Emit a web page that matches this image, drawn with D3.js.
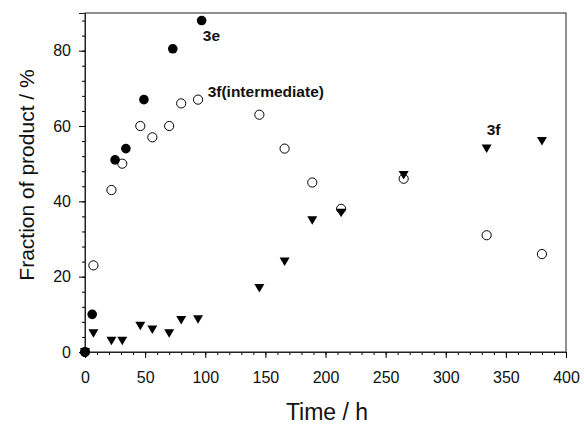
<!DOCTYPE html>
<html>
<head>
<meta charset="utf-8">
<script src="https://cdn.jsdelivr.net/npm/d3@7"></script>
<style>
  body { margin: 0; background: #fff; }
  text { font-family: "Liberation Sans", Arial, sans-serif; }
</style>
</head>
<body>
<svg id="chart" width="584" height="424"></svg>
<script>
// time (h) and fraction (%)
const time3e = [0, 6, 25, 34, 49, 73, 97];
const frac3e = [0, 10, 51, 54, 67, 80.5, 88];

const timeInter = [0, 7, 22, 31, 46, 56, 70, 80, 94, 145, 166, 189, 213, 265, 334, 380];
const fracInter = [0, 23, 43, 50, 60, 57, 60, 66, 67, 63, 54, 45, 38, 46, 31, 26];

const time3f = [0, 7, 22, 31, 46, 56, 70, 80, 94, 145, 166, 189, 213, 265, 334, 380];
const frac3f = [0, 5, 3, 3, 7, 6, 5, 8.5, 8.7, 17, 24, 35, 37, 47, 54, 56];

const xTicks = [0, 50, 100, 150, 200, 250, 300, 350, 400];
const yTicks = [0, 20, 40, 60, 80];

const margin = { top: 13, right: 18, bottom: 72, left: 85 };
const width = 584 - margin.left - margin.right;
const height = 424 - margin.top - margin.bottom;

const svg = d3.select('#chart');
const g = svg.append('g')
  .attr('transform', `translate(${margin.left},${margin.top})`);

const x = d3.scaleLinear().domain([0, 400]).range([0, width]);
const y = d3.scaleLinear().domain([0, 90]).range([height, 0]);

// frame
g.append('rect')
  .attr('width', width)
  .attr('height', height)
  .attr('fill', 'none')
  .attr('stroke', '#222')
  .attr('stroke-width', 1);

// minor ticks
g.append('g')
  .attr('transform', `translate(0,${height})`)
  .call(d3.axisBottom(x).tickValues(d3.range(0, 401, 10)).tickSize(3).tickFormat(''))
  .call(a => a.select('.domain').remove());
g.append('g')
  .call(d3.axisLeft(y).tickValues(d3.range(0, 89, 4)).tickSize(3).tickFormat(''))
  .call(a => a.select('.domain').remove());

// major ticks
const xAxis = g.append('g')
  .attr('transform', `translate(0,${height})`)
  .call(d3.axisBottom(x).tickValues(xTicks).tickSize(6).tickPadding(14));
const yAxis = g.append('g')
  .call(d3.axisLeft(y).tickValues(yTicks).tickSize(6).tickPadding(8));

[xAxis, yAxis].forEach(a => {
  a.selectAll('text').style('font-size', '16px').attr('fill', '#111');
  a.select('.domain').attr('stroke', '#222');
});

// 3f(intermediate): open circles
g.append('g')
  .selectAll('circle')
  .data(d3.zip(timeInter, fracInter))
  .join('circle')
  .attr('cx', d => x(d[0]))
  .attr('cy', d => y(d[1]))
  .attr('r', 4.6)
  .attr('fill', 'none')
  .attr('stroke', '#000')
  .attr('stroke-width', 1);

// 3f: filled down-triangles
g.append('g')
  .selectAll('path')
  .data(d3.zip(time3f, frac3f))
  .join('path')
  .attr('transform', d => `translate(${x(d[0])},${y(d[1])})`)
  .attr('d', 'M-5,-4L5,-4L0,4.5Z')
  .attr('fill', '#000');

// 3e: filled circles
g.append('g')
  .selectAll('circle')
  .data(d3.zip(time3e, frac3e))
  .join('circle')
  .attr('cx', d => x(d[0]))
  .attr('cy', d => y(d[1]))
  .attr('r', 4.8)
  .attr('fill', '#000');

// series labels
const labels = [
  { text: '3e', t: 98, v: 82.5 },
  { text: '3f(intermediate)', t: 102, v: 67.7 },
  { text: '3f', t: 334, v: 57.5 }
];
g.selectAll('.lab')
  .data(labels)
  .join('text')
  .attr('class', 'lab')
  .attr('x', d => x(d.t))
  .attr('y', d => y(d.v))
  .attr('font-size', '15.5px')
  .attr('font-weight', 'bold')
  .attr('fill', '#111')
  .text(d => d.text);

// axis titles
svg.append('text')
  .attr('x', 327)
  .attr('y', 420)
  .attr('text-anchor', 'middle')
  .attr('font-size', '23px')
  .attr('fill', '#111')
  .text('Time / h');

svg.append('text')
  .attr('transform', 'translate(34,175) rotate(-90)')
  .attr('text-anchor', 'middle')
  .attr('font-size', '21px')
  .attr('fill', '#111')
  .text('Fraction of product / %');
</script>
</body>
</html>
